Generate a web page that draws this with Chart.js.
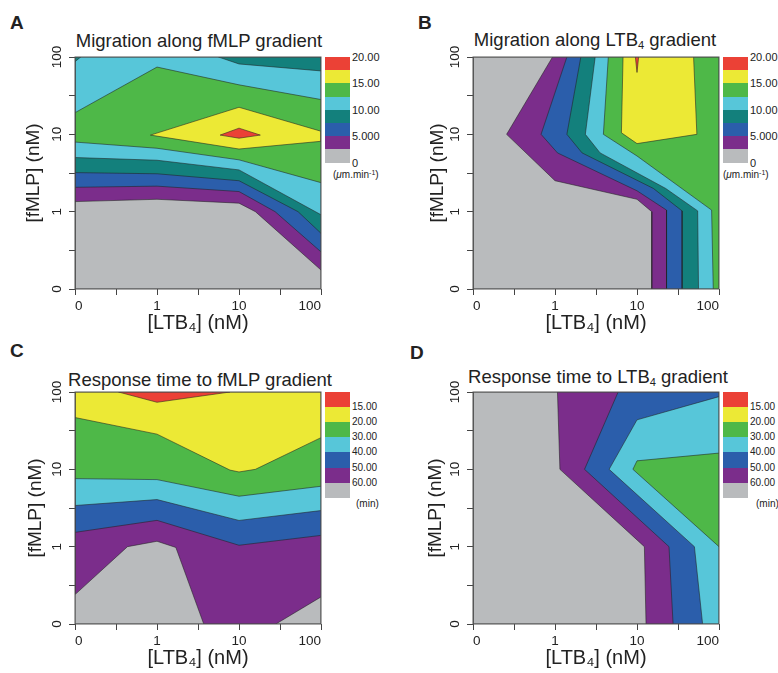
<!DOCTYPE html>
<html>
<head>
<meta charset="utf-8">
<script src="https://cdn.jsdelivr.net/npm/chart.js@4.4.1/dist/chart.umd.min.js"></script>
<style>
  body { margin: 0; width: 778px; height: 673px; background: #fff; position: relative; overflow: hidden;
         font-family: 'Liberation Sans', Arial, Helvetica, sans-serif; color: #222; }
  .chart { position: absolute; }
  .letter { position: absolute; font-weight: bold; font-size: 19px; line-height: 1; }
  .title { position: absolute; font-size: 18.5px; line-height: 1; white-space: nowrap; transform: translateX(-50%); }
  .title sub { font-size: 0.6em; vertical-align: -0.3em; line-height: 0; }
  .box { position: absolute; width: 25px; }
  .lab { position: absolute; line-height: 1; white-space: nowrap; transform: translateY(-50%); }
  .lab sup { font-size: 0.7em; vertical-align: 0.4em; line-height: 0; }
</style>
</head>
<body>
<script>
const tickLabels = ['0', '1', '10', '100'];

// colour of each level, lowest level first
const migColors = ['#b9bbbd', '#7b2d8b', '#2b5eab', '#13807c', '#57c6d9', '#4eb848', '#ece935', '#eb4136'];
const timeColors = ['#b9bbbd', '#7b2d8b', '#2b5eab', '#57c6d9', '#4eb848', '#ece935', '#eb4136'];

const migLegend = ['20.00', '15.00', '10.00', '5.000', '0'];
const migLegendRows = [0, 2, 4, 6, 8];
const timeLegend = ['15.00', '20.00', '30.00', '40.00', '50.00', '60.00'];
const timeLegendRows = [1, 2, 3, 4, 5, 6];

// contour patches in axis units (x: LTB4 decade, y: fMLP decade), painted in order
const migFmlpLevels = [0, 1, 2, 3, 4, 5, 3, 3, 6, 7];
const migFmlpShapes = [
    [[0, 0], [3, 0], [3, 3], [0, 3]],
    [[0, 1.13], [1, 1.16], [2, 1.11], [2.2, 1.0], [3, 0.245], [3, 3], [0, 3]],
    [[0, 1.315], [1, 1.33], [2, 1.26], [2.44, 1.0], [3, 0.48], [3, 3], [0, 3]],
    [[0, 1.505], [1, 1.49], [2, 1.40], [2.72, 1.0], [3, 0.72], [3, 3], [0, 3]],
    [[0, 1.70], [1, 1.665], [2, 1.54], [3, 0.96], [3, 3], [0, 3]],
    [[0, 1.90], [1, 1.82], [2, 1.67], [3, 1.375], [3, 2.45], [2, 2.64], [1, 2.87], [0, 2.28]],
    [[1.75, 3], [2, 2.91], [3, 2.82], [3, 3]],
    [[0, 3], [0.07, 3], [0, 2.94]],
    [[0.92, 1.99], [2, 2.35], [3, 2.04], [3, 1.91], [2, 1.81]],
    [[1.77, 1.99], [2, 2.08], [2.26, 1.99], [2, 1.95]]
];

const migLtbLevels = [0, 1, 2, 3, 4, 5, 6, 7];
const migLtbShapes = [
    [[0, 0], [3, 0], [3, 3], [0, 3]],
    [[0.97, 3], [0.41, 2.0], [1.0, 1.40], [2.0, 1.16], [2.18, 1.0], [2.18, 0], [3, 0], [3, 3]],
    [[1.145, 3], [0.83, 2.0], [1.03, 1.76], [2.0, 1.27], [2.36, 1.02], [2.36, 0], [3, 0], [3, 3]],
    [[1.315, 3], [1.145, 2.0], [1.33, 1.76], [2.2, 1.3], [2.55, 1.01], [2.55, 0], [3, 0], [3, 3]],
    [[1.49, 3], [1.37, 2.0], [1.55, 1.76], [2.35, 1.3], [2.74, 1.01], [2.75, 0], [3, 0], [3, 3]],
    [[1.65, 3], [1.59, 2.0], [2.0, 1.72], [2.91, 1.02], [2.93, 0], [3, 0], [3, 3]],
    [[1.83, 3], [2.69, 3], [2.73, 2.0], [2.0, 1.88], [1.81, 2.02]],
    [[1.98, 3], [2.02, 3], [2.0, 2.8]]
];

const timeFmlpLevels = [1, 0, 0, 2, 3, 4, 5, 6];
const timeFmlpShapes = [
    [[0, 0], [3, 0], [3, 3], [0, 3]],
    [[0, 0], [0, 0.38], [0.64, 1.0], [1.0, 1.07], [1.23, 0.99], [1.57, 0]],
    [[2.45, 0], [3, 0], [3, 0.35]],
    [[0, 1.185], [1, 1.34], [2, 1.018], [3, 1.146], [3, 3], [0, 3]],
    [[0, 1.532], [1, 1.609], [2, 1.339], [3, 1.467], [3, 3], [0, 3]],
    [[0, 1.88], [1, 1.867], [2, 1.652], [3, 1.781], [3, 3], [0, 3]],
    [[0, 2.67], [1, 2.455], [1.89, 1.99], [2, 1.966], [2.2, 2.0], [3, 2.41], [3, 3], [0, 3]],
    [[0.53, 3], [1.0, 2.867], [1.89, 3]]
];

const timeLtbLevels = [0, 1, 2, 3, 4];
const timeLtbShapes = [
    [[0, 0], [3, 0], [3, 3], [0, 3]],
    [[1.03, 3], [1.06, 2.0], [2.09, 1.0], [2.11, 0], [3, 0], [3, 3]],
    [[1.77, 3], [1.36, 2.0], [2.39, 1.0], [2.44, 0], [3, 0], [3, 3]],
    [[3, 2.94], [2.0, 2.64], [1.66, 2.0], [2.70, 1.0], [2.80, 0], [3, 0]],
    [[3, 2.21], [2.0, 2.11], [1.95, 2.0], [3, 1.0]]
];

const panels = [
    { letter: 'A', lx: 10, ly: 12.5, title: 'Migration along fMLP gradient', tx: 199, ty: 32.3,
      plotLeft: 75, plotTop: 57, yPad: 22, levels: migFmlpLevels, shapes: migFmlpShapes, colors: migColors,
      legend: migLegend, rows: migLegendRows, rowH: 13.2, labSize: 11, unit: '(<i>μ</i>m.min<sup>-1</sup>)', unitX: 333, unitY: 175 },
    { letter: 'B', lx: 418, ly: 12.5, title: 'Migration along LTB<sub>4</sub> gradient', tx: 595, ty: 31.3,
      plotLeft: 473, plotTop: 57, yPad: 28, levels: migLtbLevels, shapes: migLtbShapes, colors: migColors,
      legend: migLegend, rows: migLegendRows, rowH: 13.2, labSize: 11, unit: '(<i>μ</i>m.min<sup>-1</sup>)', unitX: 723, unitY: 175 },
    { letter: 'C', lx: 10, ly: 340.5, title: 'Response time to fMLP gradient', tx: 200, ty: 370.5,
      plotLeft: 75, plotTop: 392, yPad: 24, levels: timeFmlpLevels, shapes: timeFmlpShapes, colors: timeColors,
      legend: timeLegend, rows: timeLegendRows, rowH: 15.1, labSize: 10, unit: '(min)', unitX: 356, unitY: 504 },
    { letter: 'D', lx: 410, ly: 342.5, title: 'Response time to LTB<sub>4</sub> gradient', tx: 598, ty: 367.6,
      plotLeft: 473, plotTop: 392, yPad: 26, levels: timeLtbLevels, shapes: timeLtbShapes, colors: timeColors,
      legend: timeLegend, rows: timeLegendRows, rowH: 15.1, labSize: 10, unit: '(min)', unitX: 756, unitY: 504 }
];

Chart.defaults.font.family = "'Liberation Sans', Arial, Helvetica, sans-serif";
Chart.defaults.color = '#222';

// thin frame round the plot area
const frame = {
    id: 'frame',
    afterDatasetsDraw(chart) {
        const { ctx, chartArea: a } = chart;
        ctx.save();
        ctx.strokeStyle = '#555';
        ctx.lineWidth = 1;
        ctx.strokeRect(a.left, a.top, a.right - a.left, a.bottom - a.top);
        ctx.restore();
    }
};

function addDiv(cls, html, css) {
    const d = document.createElement('div');
    d.className = cls;
    d.innerHTML = html;
    Object.assign(d.style, css);
    document.body.appendChild(d);
    return d;
}

function tickText(v) {
    return Number.isInteger(v) ? tickLabels[v] : '';
}

panels.forEach(p => {
    addDiv('letter', p.letter, { left: p.lx + 'px', top: p.ly + 'px' });
    addDiv('title', p.title, { left: p.tx + 'px', top: p.ty + 'px' });

    // colour key
    const boxLeft = p.plotLeft + 246 + 4;
    const boxes = p.colors.slice().reverse();
    boxes.forEach((c, i) => {
        addDiv('box', '', { left: boxLeft + 'px', top: (p.plotTop + i * p.rowH) + 'px',
                            height: (p.rowH + 0.5) + 'px', background: c });
    });
    p.legend.forEach((t, i) => {
        addDiv('lab', t, { left: (boxLeft + 27) + 'px', top: (p.plotTop + p.rows[i] * p.rowH) + 'px',
                           fontSize: p.labSize + 'px' });
    });
    addDiv('lab', p.unit, { left: p.unitX + 'px', top: p.unitY + 'px', fontSize: '10px' });

    const wrap = addDiv('chart', '', { left: (p.plotLeft - 75) + 'px', top: (p.plotTop - 16) + 'px',
                                       width: '325px', height: '298px' });
    const canvas = document.createElement('canvas');
    wrap.appendChild(canvas);

    const datasets = p.shapes.map((s, i) => ({
        data: s.concat([s[0]]).map(pt => ({ x: pt[0], y: pt[1] })),
        backgroundColor: p.colors[p.levels[i]],
        borderColor: 'rgba(35, 35, 35, 0.8)',
        borderWidth: 0.7,
        fill: 'shape',
        pointRadius: 0,
        tension: 0
    })).reverse(); // first dataset is drawn on top

    new Chart(canvas, {
        type: 'line',
        data: { datasets: datasets },
        plugins: [frame],
        options: {
            responsive: true,
            maintainAspectRatio: false,
            animation: false,
            events: [],
            layout: { padding: { top: 16, right: 4, bottom: 0, left: 0 } },
            plugins: { legend: { display: false }, tooltip: { enabled: false } },
            scales: {
                x: {
                    type: 'linear', min: 0, max: 3,
                    ticks: { stepSize: 0.5, autoSkip: false, maxRotation: 0, padding: 3, align: 'inner',
                             font: { size: 13.5 }, callback: tickText },
                    grid: { drawOnChartArea: false, tickLength: 6, color: '#444' },
                    border: { display: false },
                    title: { display: true, text: '[LTB₄] (nM)', font: { size: 20 }, padding: { top: 0, bottom: 4 } },
                    afterFit: s => { s.height = 50; s.paddingLeft = 0; s.paddingRight = 0; }
                },
                y: {
                    type: 'linear', min: 0, max: 3,
                    ticks: { stepSize: 0.5, autoSkip: false, minRotation: 90, maxRotation: 90, padding: 0,
                             crossAlign: 'center', font: { size: 13.5 }, callback: tickText },
                    grid: { drawOnChartArea: false, tickLength: 6, color: '#444' },
                    border: { display: false },
                    title: { display: true, text: '[fMLP] (nM)', font: { size: 19 }, padding: { top: p.yPad, bottom: 0 } },
                    afterFit: s => { s.width = 75; s.paddingTop = 0; s.paddingBottom = 0; }
                }
            }
        }
    });
});
</script>
</body>
</html>
